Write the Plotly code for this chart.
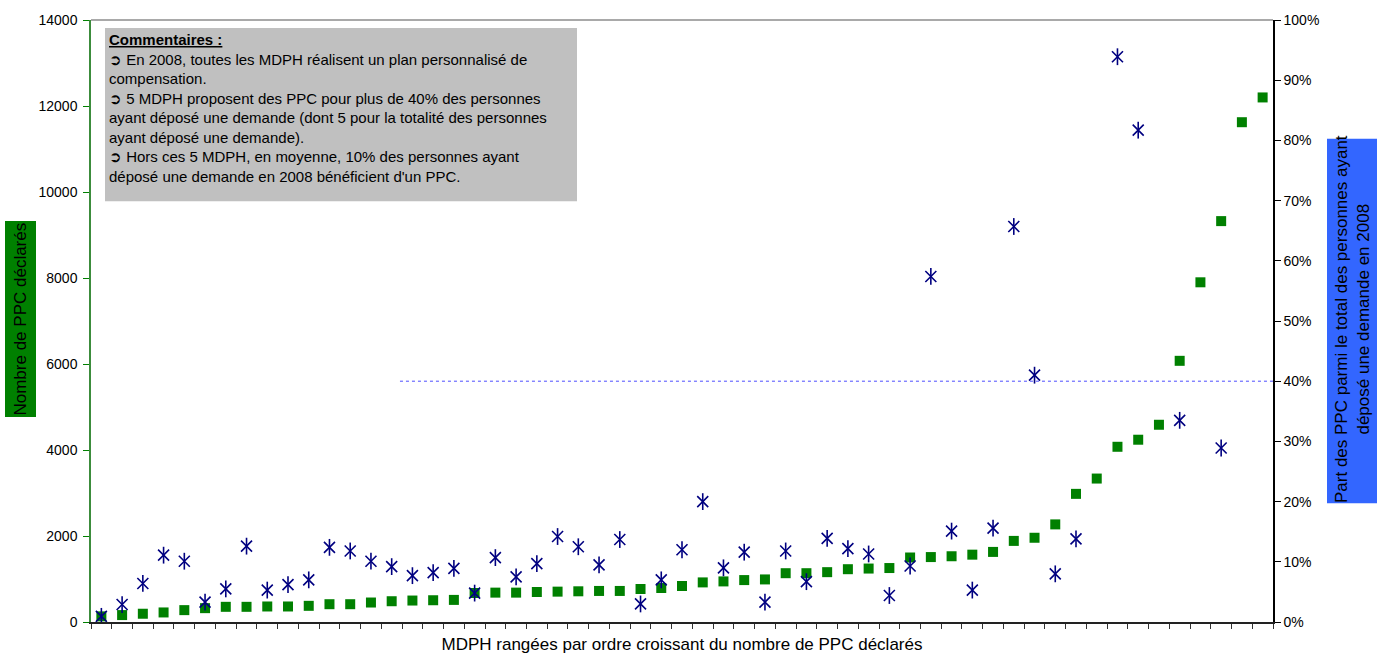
import plotly.graph_objects as go

# ---- data ----
mdph_rank = list(range(1, 58))
ppc_declares = [131, 161, 192, 222, 276, 322, 353, 353, 361, 361,
                376, 414, 414, 453, 483, 499, 506, 514, 675,
                683, 683, 698, 706, 714, 722, 722, 767, 790, 837, 921, 944, 975, 990,
                1135, 1135, 1159, 1228, 1243,
                1255, 1500, 1510, 1529, 1566, 1630, 1886, 1959, 2270, 2980, 3336,
                4075, 4239, 4587, 6074, 7900, 9323, 11623, 12199]
part_ppc = [0.0094, 0.029, 0.064, 0.111, 0.101, 0.033, 0.055, 0.126, 0.053, 0.062,
            0.070, 0.124, 0.118, 0.101, 0.092, 0.077, 0.082, 0.089, 0.048,
            0.107, 0.075, 0.097, 0.142, 0.125, 0.095, 0.137, 0.030, 0.070, 0.120,
            0.200, 0.090, 0.116, 0.033, 0.118, 0.067, 0.139, 0.122, 0.113,
            0.044, 0.093, 0.574, 0.151, 0.053, 0.156, 0.657, 0.410, 0.080, 0.138,
            None, 0.939, 0.817, None, 0.335, None, 0.289, None, None]
seuil = 0.40
seuil_debut = 15.4  # x position (rank scale) where the 40% reference line starts

y_ticks = list(range(0, 14001, 2000))
pct_ticks = [i / 10 for i in range(11)]

FONT = "Liberation Sans, Arial, sans-serif"
GREEN = "#008000"
NAVY = "#000080"

fig = go.Figure()

fig.add_trace(go.Scatter(
    x=mdph_rank, y=ppc_declares, mode="markers", name="Nombre de PPC",
    marker=dict(symbol="square", size=10, color=GREEN, line=dict(width=0)),
    yaxis="y", showlegend=False, cliponaxis=False))

fig.add_trace(go.Scatter(
    x=mdph_rank, y=part_ppc, mode="markers", name="Part",
    marker=dict(symbol="x-thin-open", size=11, color=NAVY, line=dict(width=1.6, color=NAVY)),
    yaxis="y2", showlegend=False))
fig.add_trace(go.Scatter(
    x=mdph_rank, y=part_ppc, mode="markers", name="Part2",
    marker=dict(symbol="line-ns-open", size=12, color=NAVY, line=dict(width=1.6, color=NAVY)),
    yaxis="y2", showlegend=False))

fig.add_trace(go.Scatter(
    x=[seuil_debut, mdph_rank[-1] + 0.5], y=[seuil, seuil], mode="lines",
    line=dict(color="#4d4dff", width=1, dash="dot"), yaxis="y2",
    showlegend=False, hoverinfo="skip"))

L, R, T, B = 91, 112, 15, 38
W, H = 1385, 661
pw, ph = W - L - R, H - T - B

def px(x):
    return (x - L) / pw

def py(y):
    return (H - B - y) / ph

fig.update_layout(
    width=W, height=H,
    margin=dict(l=L, r=R, t=T, b=B),
    paper_bgcolor="white", plot_bgcolor="white",
    font=dict(family=FONT, size=14, color="#000000"),
    xaxis=dict(
        range=[0.5, len(mdph_rank) + 0.5],
        tickvals=[i + 0.5 for i in range(0, len(mdph_rank) + 1)],
        showticklabels=False, ticks="outside", ticklen=5, tickcolor="#333333",
        showline=True, linecolor="#222222", linewidth=1.5, showgrid=False, zeroline=False,
        title=dict(text="MDPH rangées par ordre croissant du nombre de PPC déclarés",
                   font=dict(size=17, family=FONT, color="#000000"), standoff=10),
    ),
    yaxis=dict(
        range=[0, 14000], tickvals=y_ticks, ticktext=[str(v) for v in y_ticks],
        ticks="outside", ticklen=6, tickcolor=GREEN, ticklabelstandoff=3,
        showline=True, linecolor="#3c8c3c", linewidth=1.5, showgrid=False, zeroline=False,
        tickfont=dict(size=14, family=FONT, color="#000000"),
    ),
    yaxis2=dict(
        range=[0, 1], overlaying="y", side="right", tickvals=pct_ticks,
        ticktext=[f"{int(round(v * 100))}%" for v in pct_ticks],
        ticks="outside", ticklen=6, tickcolor="#000000",
        showline=True, linecolor="#000000", linewidth=1.5, showgrid=False, zeroline=False,
        tickfont=dict(size=14, family=FONT, color="#000000"),
    ),
    shapes=[
        dict(type="line", xref="paper", yref="paper", x0=0, x1=1, y0=1, y1=1,
             line=dict(color="#8c8c8c", width=1.5)),
        dict(type="rect", xref="paper", yref="paper",
             x0=px(5), x1=px(36), y0=py(416), y1=py(218),
             fillcolor=GREEN, line=dict(width=0), layer="below"),
        dict(type="rect", xref="paper", yref="paper",
             x0=px(1327), x1=px(1377), y0=py(503), y1=py(135),
             fillcolor="#3366FF", line=dict(width=0), layer="below"),
        dict(type="rect", xref="paper", yref="paper",
             x0=px(105), x1=px(577), y0=py(198), y1=py(23),
             fillcolor="#C0C0C0", line=dict(width=0), layer="below"),
    ],
    annotations=[
        dict(text="Nombre de PPC déclarés", xref="paper", yref="paper",
             x=px(20.5), y=py(317), xanchor="center", yanchor="middle",
             textangle=-90, showarrow=False, font=dict(size=17, family=FONT, color="#000000")),
        dict(text="Part des PPC parmi le total des personnes ayant<br>déposé une demande en 2008",
             xref="paper", yref="paper", x=px(1352), y=py(317), xanchor="center", yanchor="middle",
             textangle=-90, showarrow=False, align="center",
             font=dict(size=17, family=FONT, color="#000000")),
        dict(text=("<b><u>Commentaires :</u></b><br>"
                   "➲ En 2008, toutes les MDPH réalisent un plan personnalisé de<br>"
                   "compensation.<br>"
                   "➲ 5 MDPH proposent des PPC pour plus de 40% des personnes<br>"
                   "ayant déposé une demande (dont 5 pour la totalité des personnes<br>"
                   "ayant déposé une demande).<br>"
                   "➲ Hors ces 5 MDPH, en moyenne, 10% des personnes ayant<br>"
                   "déposé une demande en 2008 bénéficient d'un PPC."),
             xref="paper", yref="paper", x=px(107), y=py(24), xanchor="left", yanchor="top",
             align="left", showarrow=False,
             font=dict(size=15, family=FONT, color="#000000")),
    ],
)

fig.write_html("out.html", config={"displayModeBar": False},
               post_script="document.body.style.margin='0';document.body.style.padding='0';")
